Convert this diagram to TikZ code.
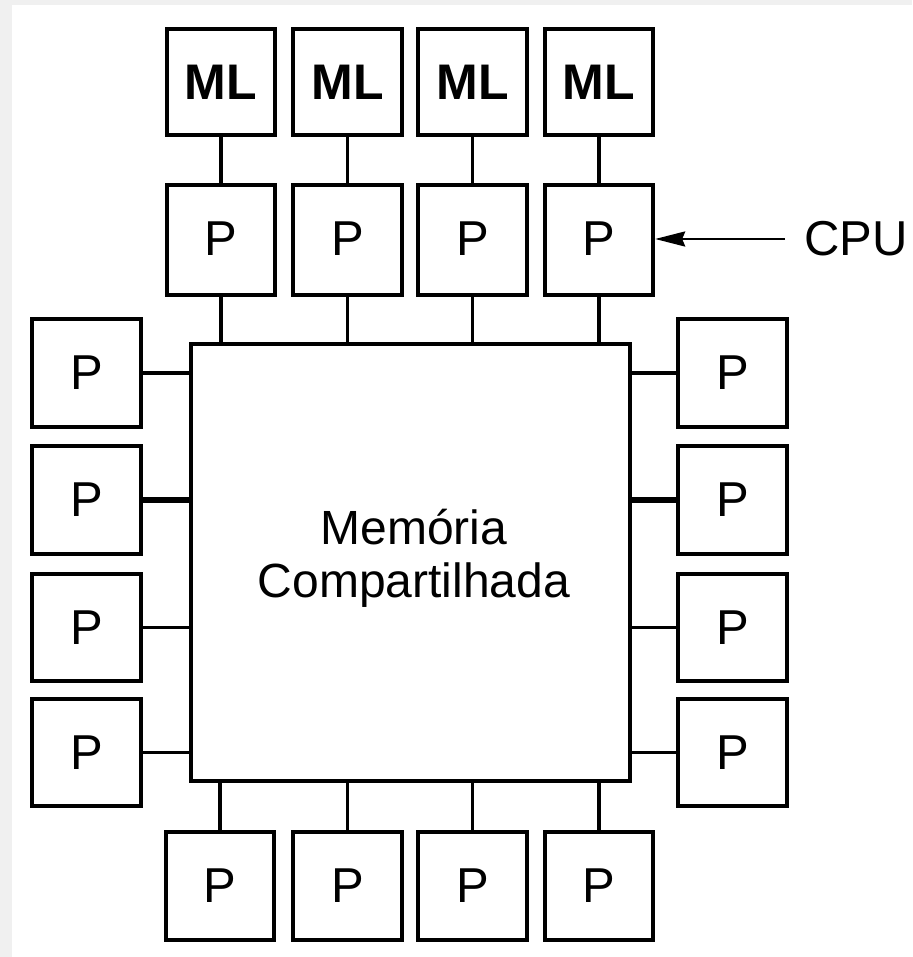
\documentclass[tikz,border=0pt]{standalone}
\usepackage{fontspec}
\setmainfont{Liberation Sans}
\usetikzlibrary{arrows.meta}
\definecolor{edgegray}{HTML}{F0F0F0}
\begin{document}
\begin{tikzpicture}[x=1pt,y=-1pt,
  unit/.style={draw=black, line width=3.8pt, fill=white, inner sep=0pt,
    minimum width=108.5pt, minimum height=108pt,
    font=\fontsize{49}{49}\selectfont},
  cache/.style={unit, minimum height=106.5pt, font=\fontsize{50}{50}\selectfont\bfseries},
  link/.style={line width=3.5pt},
  thicklink/.style={line width=6pt},
  pointer/.style={line width=2.5pt, -{Stealth[length=30pt,width=15pt,inset=3pt]}},
]
% page background with its light edge strips
\fill[white] (0,0) rectangle (912,957);
\fill[edgegray] (0,0) rectangle (12,957);
\fill[edgegray] (0,0) rectangle (912,5);
\useasboundingbox (0,0) rectangle (912,957);

% shared memory
\node[draw=black, line width=3.8pt, fill=white, minimum width=439.5pt,
      minimum height=437.5pt, inner sep=0pt] (mem) at (410.5,562.5) {};
\node[font=\fontsize{48}{53}\selectfont, align=center, inner sep=0pt]
      (memtxt) at (414,558) {Memória\\Compartilhada};

% top row: local memories and their CPUs
\foreach \i/\x in {1/221, 2/347.5, 3/472.5, 4/599} {
  \node[cache] (m\i) at (\x,82) {ML};
  \node[unit, minimum height=110.5pt] (t\i) at (\x,240) {\raisebox{2pt}{P}};
  \draw[link] (m\i.south) -- (t\i.north);
  \draw[link] (t\i.south) -- (t\i.south |- mem.north);
}

% bottom row
\foreach \i/\x in {1/220, 2/347.5, 3/472.5, 4/599} {
  \node[unit] (b\i) at (\x,886) {P};
  \draw[link] (b\i.north) -- (b\i.north |- mem.south);
}

% left and right columns
\foreach \i/\y in {1/373, 2/500, 3/627.5, 4/752.5} {
  \node[unit, minimum height=107.5pt] (l\i) at (86.5,\y) {P};
  \node[unit, minimum height=107.5pt] (r\i) at (732.5,\y) {P};
}
\foreach \i in {1,3,4} {
  \draw[link] (l\i.east) -- (l\i.east -| mem.west);
  \draw[link] (r\i.west) -- (r\i.west -| mem.east);
}
\draw[thicklink] (l2.east) -- (l2.east -| mem.west);
\draw[thicklink] (r2.west) -- (r2.west -| mem.east);

% label for a processor
\node[anchor=west, inner sep=0pt, font=\fontsize{49}{49}\selectfont]
      (cpu) at (804,239) {CPU};
\coordinate (cpustart) at (785,239);
\draw[pointer] (cpustart) -- (t4.east |- cpustart);
\end{tikzpicture}
\end{document}
